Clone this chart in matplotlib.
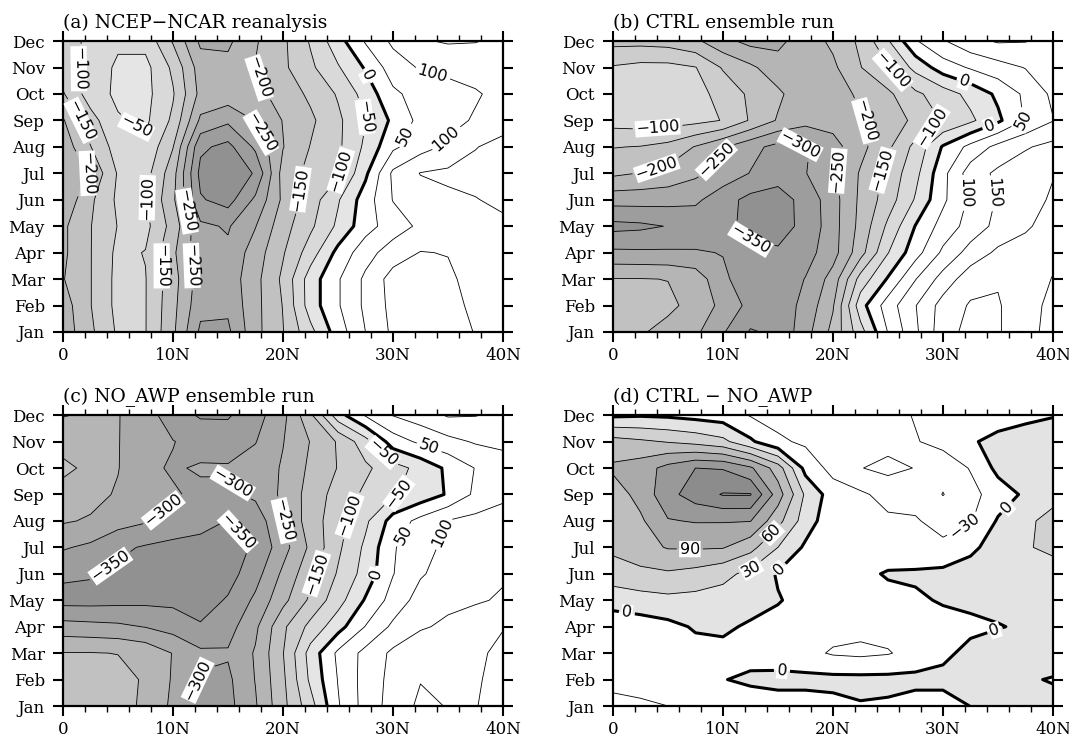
import numpy as np
import matplotlib
matplotlib.use('Agg')
import matplotlib.pyplot as plt
from matplotlib.ticker import MultipleLocator

plt.rcParams['contour.negative_linestyle'] = 'solid'

# ---------------- data ----------------
LATS = [0, 2.5, 5, 7.5, 10, 12.5, 15, 17.5, 20, 22.5, 25, 27.5, 30, 32.5, 35, 37.5, 40]
MONTHS = ['Jan', 'Feb', 'Mar', 'Apr', 'May', 'Jun', 'Jul', 'Aug', 'Sep', 'Oct', 'Nov', 'Dec']
XTICKS = [0, 10, 20, 30, 40]
XTICKLABELS = ['0', '10N', '20N', '30N', '40N']
TITLES = ['(a) NCEP\u2212NCAR reanalysis', '(b) CTRL ensemble run',
          '(c) NO_AWP ensemble run', '(d) CTRL \u2212 NO_AWP']

# rows Jan..Dec, columns LATS
NCEP = [
    [-230, -160, -92, -98, -190, -310, -310, -215, -152, -65, 25, 100, 160, 175, 170, 148, 130],
    [-225, -152, -85, -98, -185, -285, -290, -215, -148, -25, 45, 110, 165, 180, 165, 140, 125],
    [-203, -152, -85, -98, -180, -275, -280, -215, -140, -25, 45, 110, 170, 185, 160, 130, 120],
    [-210, -152, -88, -102, -190, -285, -290, -225, -155, -75, 15, 80, 125, 152, 148, 138, 130],
    [-210, -152, -98, -85, -170, -290, -305, -252, -170, -110, -40, 30, 75, 110, 125, 135, 140],
    [-240, -160, -90, -95, -190, -345, -370, -290, -190, -125, -55, 25, 102, 125, 140, 148, 160],
    [-245, -195, -95, -80, -180, -365, -388, -345, -180, -135, -110, -10, 110, 152, 160, 165, 175],
    [-230, -152, -75, -60, -148, -340, -365, -290, -202, -148, -110, -40, 40, 80, 110, 148, 165],
    [-205, -120, -55, -40, -110, -260, -290, -248, -198, -160, -110, -52, 10, 65, 85, 105, 130],
    [-155, -75, -40, -35, -95, -215, -220, -215, -180, -140, -95, -30, 40, 70, 85, 95, 115],
    [-120, -85, -40, -35, -110, -225, -235, -198, -160, -110, -55, 5, 75, 105, 110, 120, 130],
    [-110, -95, -60, -65, -155, -260, -260, -205, -160, -95, -20, 55, 110, 145, 155, 152, 140],
]

CTRL = [
    [-190, -195, -215, -240, -295, -355, -340, -270, -185, -70, 52, 140, 230, 265, 255, 215, 185],
    [-185, -180, -190, -215, -265, -315, -330, -285, -205, -20, 75, 148, 220, 255, 255, 215, 190],
    [-198, -198, -201, -220, -290, -330, -335, -298, -230, -80, 5, 98, 170, 230, 245, 225, 198],
    [-290, -292, -293, -295, -302, -340, -345, -320, -270, -170, -52, 30, 110, 170, 210, 215, 210],
    [-365, -360, -348, -335, -340, -360, -365, -340, -270, -185, -90, 2, 70, 120, 165, 195, 215],
    [-280, -280, -283, -290, -330, -365, -370, -335, -270, -190, -125, -45, 40, 110, 155, 185, 205],
    [-190, -202, -215, -240, -270, -302, -330, -302, -260, -195, -135, -65, 35, 125, 160, 180, 198],
    [-148, -152, -165, -203, -245, -285, -315, -305, -270, -215, -160, -85, 5, 65, 115, 145, 165],
    [-80, -75, -78, -85, -102, -155, -205, -235, -230, -205, -175, -140, -95, -60, -10, 55, 98],
    [-70, -70, -72, -85, -115, -160, -190, -235, -225, -190, -160, -110, -75, -35, 10, 60, 110],
    [-95, -85, -85, -98, -155, -190, -230, -230, -210, -152, -105, -35, 25, 55, 80, 102, 115],
    [-165, -165, -170, -190, -235, -265, -262, -225, -190, -140, -55, 45, 95, 135, 155, 152, 135],
]

NO_AWP = [
    [-190, -180, -180, -210, -260, -310, -315, -255, -165, -70, 45, 120, 170, 210, 198, 152, 130],
    [-185, -180, -185, -205, -255, -305, -310, -248, -160, -40, 52, 120, 165, 198, 190, 155, 135],
    [-198, -198, -201, -215, -252, -290, -295, -245, -152, -30, 60, 115, 160, 180, 175, 158, 140],
    [-280, -285, -290, -302, -320, -345, -320, -260, -160, -85, -20, 52, 110, 145, 158, 160, 152],
    [-368, -368, -365, -362, -362, -372, -345, -290, -215, -140, -70, 5, 70, 120, 140, 148, 152],
    [-340, -345, -360, -380, -385, -385, -370, -320, -240, -165, -95, -30, 48, 95, 120, 140, 148],
    [-295, -310, -340, -355, -365, -370, -365, -345, -270, -190, -110, -40, 45, 85, 110, 130, 140],
    [-245, -255, -280, -295, -315, -330, -352, -330, -252, -175, -120, -60, 20, 65, 102, 115, 120],
    [-225, -235, -255, -275, -295, -310, -310, -290, -240, -180, -130, -90, -55, -30, 5, 60, 90],
    [-185, -215, -248, -290, -305, -295, -295, -280, -245, -190, -148, -110, -70, -35, 10, 52, 70],
    [-225, -230, -248, -280, -298, -320, -325, -302, -252, -198, -145, -70, 25, 60, 85, 105, 115],
    [-252, -245, -248, -275, -330, -355, -355, -320, -265, -160, -20, 55, 102, 125, 155, 152, 140],
]

DIFF = [
    [-40, -35, -30, -25, -20, -15, -12, -12, -8, -2, -4, -12, -15, 0.5, 5, 8, 15],
    [-20, -18, -15, -8, -1, 5, 8, 8, 8, 8, 8, 8, 10, 12, 12, 5, -3],
    [-15, -15, -12, -10, -8, -10, -15, -22, -33, -36, -32, -20, -8, 10, 20, 22, 25],
    [-20, -15, -8, 3, 5, -4, -10, -15, -20, -22, -20, -15, -12, -8, -2, 5, 10],
    [13, 18, 22, 20, 18, 12, 2, -10, -18, -15, -10, -5, 3, 8, 12, 15, 18],
    [45, 52, 56, 50, 38, 22, -3, -15, -20, -8, 3, 5, 8, 10, 15, 18, 20],
    [67, 80, 92, 93, 92, 70, 30, -5, -12, -18, -20, -25, -25, -5, 10, 28, 35],
    [70, 85, 118, 122, 122, 121, 70, 15, -20, -25, -25, -28, -38, -33, 3, 25, 38],
    [75, 100, 140, 165, 182, 182, 105, 25, -15, -25, -40, -38, -61, -40, -15, 5, 22],
    [95, 105, 130, 150, 148, 125, 75, -10, -40, -59, -68, -59, -50, -28, 8, 10, 15],
    [72, 65, 58, 50, 38, 5, -25, -35, -40, -45, -50, -32, -20, -2, 5, 8, 10],
    [-5, -3, -5, -10, -15, -32, -40, -42, -45, -45, -40, -28, -20, -12, -8, -4, -1],
]

# ---------------- style ----------------
GRAYS = ['#858585', '#919191', '#9d9d9d', '#a9a9a9', '#b5b5b5', '#c1c1c1',
         '#cdcdcd', '#d9d9d9', '#e5e5e5']
DGRAYS = ['#e3e3e3', '#d1d1d1', '#bebebe', '#aaaaaa', '#999999', '#8c8c8c']

def fmt(v):
    return ('%d' % round(v)).replace('-', '\u2212')

LAB_A = [(2.3, 10.0), (2.0, 8.1), (2.5, 6.0), (6.3, 7.55), (7.3, 5.1), (11.5, 4.6),
         (9.0, 2.5), (11.5, 2.5), (17.3, 9.5), (17.8, 7.5), (21.5, 5.4), (25.8, 6.1),
         (27.2, 8.1), (27.3, 9.6), (31.3, 7.4), (33.5, 9.6), (34.9, 7.3)]
LAB_B = [(4.1, 7.5), (4.1, 6.0), (9.7, 6.4), (17.0, 7.0), (12.5, 3.5), (25.2, 9.8),
         (23.2, 8.0), (20.9, 6.05), (24.9, 6.05), (29.1, 7.7), (31.8, 9.3), (34.0, 8.1),
         (37.6, 8.0), (32.0, 5.25), (34.7, 5.25)]
LAB_C = [(15.2, 8.36), (9.7, 7.15), (15.9, 6.6), (4.3, 5.3), (19.9, 7.0), (26.7, 7.1),
         (30.8, 8.0), (33.1, 9.55), (30.8, 6.5), (34.9, 6.5), (29.1, 9.6), (23.1, 5.0),
         (28.5, 5.0), (11.7, 1.0)]
LAB_D = [(7.0, 6.1), (14.6, 6.48), (12.5, 5.22), (15.2, 5.16), (1.37, 3.84),
         (32.2, 6.6), (35.9, 7.48), (34.8, 2.77), (15.35, 1.26)]

SERIF = 'DejaVu Serif'

fig = plt.figure(figsize=(10.69, 7.42), dpi=100)
W, H = 0.4116, 0.392
POS = [[0.0589, 0.5526, W, H], [0.5734, 0.5526, W, H],
       [0.0589, 0.0485, W, H], [0.5734, 0.0485, W, H]]

def lw_for(levels):
    return [2.2 if l == 0 else 0.6 for l in levels]

def panel(pos, Z, kind, labpos, title):
    ax = fig.add_axes(pos)
    Z = np.array(Z, dtype=float)
    yy = np.arange(len(MONTHS))
    if kind == 'mean':
        bounds = [-2000] + list(range(-400, 1, 50)) + [2000]
        cols = GRAYS + ['white']
        lines = list(range(-450, 301, 50))
        lablev = lines
    else:
        bounds = [-2000, 0, 30, 60, 90, 120, 150, 2000]
        cols = ['white'] + DGRAYS
        lines = list(range(-90, 181, 30))
        lablev = [-30, 0, 30, 60, 90]
    ax.contourf(LATS, yy, Z, levels=bounds, colors=cols)
    other = [l for l in lines if l not in lablev]
    if other:
        ax.contour(LATS, yy, Z, levels=other, colors='k',
                   linewidths=lw_for(other), linestyles='solid')
    cs = ax.contour(LATS, yy, Z, levels=lablev, colors='k',
                    linewidths=lw_for(lablev), linestyles='solid')
    texts = ax.clabel(cs, manual=labpos, inline=True,
                      inline_spacing=3, fmt=fmt, fontsize=11.5)
    for t in texts:
        t.set_fontfamily('DejaVu Sans')
        t.set_bbox(dict(facecolor='white', edgecolor='none', pad=0.5))
    ax.set_xlim(0, 40)
    ax.set_ylim(0, 11)
    ax.set_xticks(XTICKS)
    ax.set_xticklabels(XTICKLABELS, fontfamily=SERIF, fontsize=12)
    ax.xaxis.set_minor_locator(MultipleLocator(2))
    ax.set_yticks(yy)
    ax.set_yticklabels(MONTHS, fontfamily=SERIF, fontsize=12)
    ax.tick_params(which='both', direction='out', top=True, right=True,
                   labeltop=False, labelright=False)
    ax.tick_params(which='major', length=7, width=1.5)
    ax.tick_params(axis='y', which='major', pad=6)
    ax.tick_params(axis='x', which='major', pad=4)
    ax.tick_params(which='minor', length=4, width=1.0)
    for s in ax.spines.values():
        s.set_linewidth(1.6)
    ax.text(0.0, 1.045, title, transform=ax.transAxes, fontfamily=SERIF,
            fontsize=13.5, ha='left', va='baseline')
    return ax

panel(POS[0], NCEP, 'mean', LAB_A, TITLES[0])
panel(POS[1], CTRL, 'mean', LAB_B, TITLES[1])
panel(POS[2], NO_AWP, 'mean', LAB_C, TITLES[2])
panel(POS[3], DIFF, 'diff', LAB_D, TITLES[3])

fig.savefig('out.png', dpi=100)
